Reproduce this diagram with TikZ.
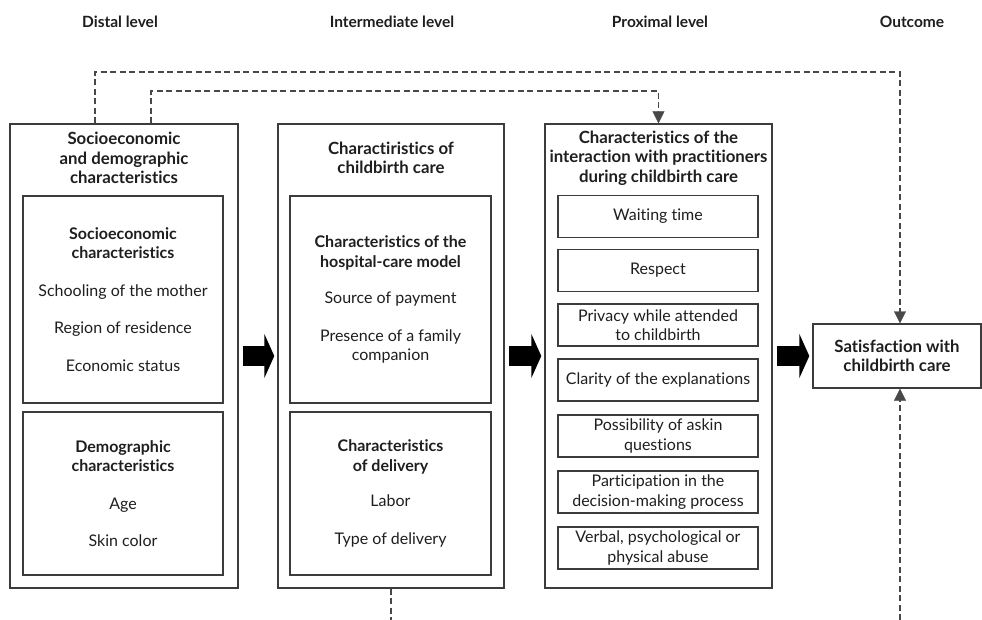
\documentclass[tikz,border=0pt]{standalone}
\usepackage{fontspec}
\setmainfont[Ligatures={NoCommon}]{Lato}
\usetikzlibrary{arrows.meta,calc}
\definecolor{linegray}{HTML}{3C3C3C}
\definecolor{dashgray}{HTML}{484848}
\definecolor{inkgray}{HTML}{1E1E1E}

\begin{document}
\begin{tikzpicture}[x=1pt, y=-1pt,
    every node/.style = {text=inkgray, font=\fontsize{16}{19.5}\selectfont},
    heading/.style = {font=\fontsize{15.5}{17}\selectfont\bfseries},
    panel/.style = {draw=linegray, line width=1.4pt, minimum width=228pt, minimum height=464pt, inner sep=0pt},
    subpanel/.style = {draw=linegray, line width=1.4pt, minimum width=200pt, align=center, inner sep=0pt},
    itembox/.style = {draw=linegray, line width=1.2pt, minimum width=200pt, minimum height=42pt, align=center, inner sep=0pt},
    title/.style = {align=center, font=\fontsize{16.8}{19.5}\selectfont\bfseries},
    bigarrow/.style = {line width=20pt, -{Triangle[length=10pt, width=44pt]}, shorten <=4pt, shorten >=3pt},
    feedback/.style = {draw=dashgray, line width=1.2pt, dash pattern=on 6pt off 3.5pt},
    tip/.style = {-{Triangle[length=12pt, width=12pt]}, dashgray}]
    \useasboundingbox (0,0) rectangle (982,620);

    % column headings
    \node[heading] (h1) at (120,22) {Distal level};
    \node[heading] (h2) at (392,22) {Intermediate level};
    \node[heading] (h3) at (660,22) {Proximal level};
    \node[heading] (h4) at (912,22) {Outcome};

    % distal level
    \node[panel] (distal) at (124,356) {};
    \node[title] (distalT) at (124,158) {Socioeconomic\\and demographic\\characteristics};
    \node[subpanel, minimum height=207pt] (socio) at (123,299.5)
        {\textbf{Socioeconomic}\\\textbf{characteristics}\\[18pt]Schooling of the mother\\[18pt]Region of residence\\[18pt]Economic status};
    \node[subpanel, minimum height=163pt] (demo) at (123,493.5)
        {\textbf{Demographic}\\\textbf{characteristics}\\[18pt]Age\\[18pt]Skin color};

    % intermediate level
    \node[panel, minimum width=226pt] (inter) at (391,356) {};
    \node[title] (interT) at (391,158) {Charactiristics of\\childbirth care};
    \node[subpanel, minimum width=201pt, minimum height=207pt] (model) at (390.5,299.5)
        {\textbf{Characteristics of the}\\\textbf{hospital-care model}\\[17pt]Source of payment\\[18pt]Presence of a family\\companion};
    \node[subpanel, minimum width=201pt, minimum height=163pt] (delivery) at (390.5,493.5)
        {\textbf{Characteristics}\\\textbf{of delivery}\\[16pt]Labor\\[18pt]Type of delivery};

    % proximal level
    \node[panel, minimum width=227pt] (prox) at (658.5,356) {};
    \node[title] (proxT) at (658.5,158) {Characteristics of the\\interaction with practitioners\\during childbirth care};
    \node[itembox] (wait) at (658,216.5) {Waiting time};
    \node[itembox] (respect) at (658,270.5) {Respect};
    \node[itembox] (privacy) at (658,325) {Privacy while attended\\to childbirth};
    \node[itembox] (clarity) at (658,380) {Clarity of the explanations};
    \node[itembox] (askin) at (658,436) {Possibility of askin\\questions};
    \node[itembox] (decision) at (658,492) {Participation in the\\decision-making process};
    \node[itembox] (abuse) at (658,548) {Verbal, psychological or\\physical abuse};

    % outcome
    \node[draw=linegray, line width=1.4pt, minimum width=168pt, minimum height=64pt, align=center, inner sep=0pt,
          font=\fontsize{16.8}{19.5}\selectfont\bfseries] (outcome) at (897,356) {Satisfaction with\\childbirth care};

    % main flow
    \draw[bigarrow] (distal) -- (inter);
    \draw[bigarrow] (inter) -- (prox);
    \draw[bigarrow] (prox) -- (outcome);

    % dashed links
    \coordinate (up1) at (95,72);
    \coordinate (up2) at (151,91);
    \coordinate (low1) at (391,620);
    \coordinate (low2) at (900,620);
    \draw[feedback] (distal.north -| up1) -- (up1) -| ($(outcome.north)+(3,-11)$);
    \draw[tip] ($(outcome.north)+(3,-12)$) -- ++(0,12);
    \draw[feedback] (distal.north -| up2) -- (up2) -| ($(prox.north)+(0,-11)$);
    \draw[tip] ($(prox.north)+(0,-12)$) -- (prox.north);
    \draw[feedback] (inter.south) -- (low1);
    \draw[feedback] (low2) -- ($(outcome.south)+(3,11)$);
    \draw[tip] ($(outcome.south)+(3,12)$) -- ++(0,-12);
\end{tikzpicture}
\end{document}
